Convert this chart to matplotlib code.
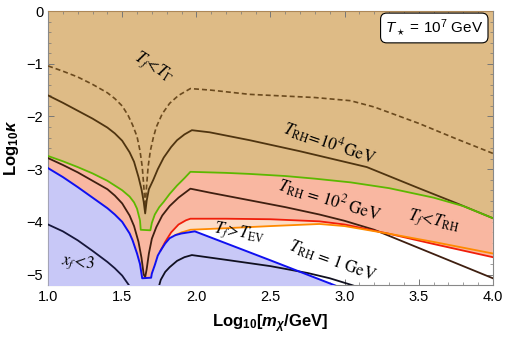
import numpy as np
import matplotlib
matplotlib.use("Agg")
import matplotlib.pyplot as plt
from matplotlib.ticker import MultipleLocator, FormatStrFormatter

plt.rcParams['font.family'] = ['Liberation Sans', 'DejaVu Sans']
plt.rcParams['mathtext.fontset'] = 'stix'
plt.rcParams['mathtext.rm'] = 'Liberation Sans'
plt.rcParams['mathtext.it'] = 'Liberation Sans:italic'
plt.rcParams['mathtext.bf'] = 'Liberation Sans:bold'
plt.rcParams['mathtext.bfit'] = 'Liberation Sans:italic:bold'

# ---------------- data ----------------
green_x = [1.0, 1.1, 1.2, 1.3, 1.4, 1.5, 1.55, 1.58, 1.60, 1.62, 1.625, 1.69, 1.70, 1.72, 1.75,
           1.78, 1.82, 1.87, 1.92, 1.96, 2.2, 2.36, 2.6, 2.8, 3.04, 3.3, 3.6, 3.8, 4.0]
green_y = [-2.75, -2.85, -2.96, -3.08, -3.22, -3.40, -3.52, -3.63, -3.75, -3.97, -4.15, -4.16, -4.02, -3.86, -3.72,
           -3.62, -3.47, -3.31, -3.17, -3.05, -3.07, -3.09, -3.13, -3.18, -3.25, -3.36, -3.54, -3.70, -3.93]

rh2_x = [1.0, 1.1, 1.2, 1.3, 1.4, 1.45, 1.5, 1.55, 1.58, 1.61, 1.63, 1.645, 1.655, 1.665, 1.68, 1.70,
         1.73, 1.77, 1.82, 1.88, 1.96, 2.1, 2.36, 2.6, 2.83, 3.0, 3.2, 3.4, 3.6, 3.8, 4.0]
rh2_y = [-2.79, -2.92, -3.06, -3.22, -3.38, -3.50, -3.65, -3.88, -4.08, -4.38, -4.68, -5.00, -5.05, -4.90, -4.60, -4.32,
         -4.10, -3.88, -3.70, -3.54, -3.37, -3.45, -3.59, -3.72, -3.86, -3.98, -4.15, -4.38, -4.61, -4.84, -5.07]

blue_x = [1.0, 1.1, 1.2, 1.3, 1.4, 1.45, 1.5, 1.55, 1.57, 1.6, 1.62, 1.635, 1.695, 1.70, 1.72, 1.74,
          1.76, 1.79, 1.82, 1.86, 1.9, 1.99, 2.5, 2.93, 3.0]
blue_y = [-2.98, -3.15, -3.34, -3.54, -3.74, -3.86, -4.00, -4.22, -4.35, -4.60, -4.80, -5.07, -5.06, -4.98, -4.82, -4.64,
          -4.54, -4.41, -4.31, -4.25, -4.22, -4.18, -4.73, -5.20, -5.28]

rh1_left_x = [1.0, 1.1, 1.2, 1.3, 1.4, 1.45, 1.5, 1.55]
rh1_left_y = [-4.05, -4.18, -4.35, -4.55, -4.76, -4.88, -5.02, -5.22]
rh1_right_x = [1.745, 1.76, 1.79, 1.82, 1.87, 1.92, 1.97, 2.2, 2.5, 2.75, 2.9, 3.05, 3.1]
rh1_right_y = [-5.25, -5.10, -4.95, -4.86, -4.74, -4.67, -4.63, -4.72, -4.84, -4.97, -5.07, -5.20, -5.25]

red_x = [1.76, 1.79, 1.83, 1.88, 1.93, 1.96, 2.2, 2.5, 2.83, 3.0, 3.29, 3.6, 4.0]
red_y = [-4.54, -4.38, -4.20, -4.05, -3.97, -3.94, -3.94, -3.95, -3.99, -4.05, -4.22, -4.42, -4.67]

orange_x = [1.86, 1.9, 1.96, 2.2, 2.5, 2.83, 3.0, 3.29, 3.6, 4.0]
orange_y = [-4.25, -4.20, -4.15, -4.12, -4.08, -4.04, -4.08, -4.22, -4.38, -4.60]

gam_x = [1.0, 1.1, 1.2, 1.3, 1.4, 1.45, 1.5, 1.54, 1.57, 1.6, 1.62, 1.635, 1.645, 1.655,
         1.665, 1.675, 1.69, 1.71, 1.73, 1.77, 1.82, 1.88, 1.96, 2.1, 2.36, 2.8, 3.04, 3.2, 3.5, 3.75, 4.0]
gam_y = [-1.04, -1.14, -1.25, -1.39, -1.55, -1.66, -1.80, -1.98, -2.16, -2.38, -2.65, -2.95, -3.30, -3.72,
         -3.30, -2.95, -2.65, -2.40, -2.20, -1.95, -1.75, -1.60, -1.47, -1.50, -1.58, -1.64, -1.70, -1.82, -2.13, -2.42, -2.70]

rh4_x = [1.0, 1.1, 1.2, 1.3, 1.4, 1.45, 1.5, 1.55, 1.58, 1.61, 1.63, 1.645, 1.655,
         1.665, 1.68, 1.71, 1.74, 1.78, 1.83, 1.87, 1.92, 1.97, 2.09, 2.36, 2.7, 3.15, 3.5, 3.75, 4.0]
rh4_y = [-1.60, -1.74, -1.89, -2.04, -2.21, -2.32, -2.46, -2.68, -2.86, -3.15, -3.38, -3.62, -3.84,
         -3.60, -3.38, -3.20, -3.00, -2.78, -2.58, -2.45, -2.34, -2.26, -2.30, -2.45, -2.66, -2.96, -3.36, -3.64, -3.93]

x_ticks = [1.0, 1.5, 2.0, 2.5, 3.0, 3.5, 4.0]
y_ticks = [0, -1, -2, -3, -4, -5]

# ---------------- colours ----------------
c_tan = '#DEBB86'
c_salmon = '#F9B7A1'
c_peach = '#FCDCC6'
c_lav = '#C8C8F7'

fig = plt.figure(figsize=(5.06, 3.37), dpi=100)
ax = fig.add_axes([0.095, 0.154, 0.879, 0.813])

# tan region above green
ax.fill_between(green_x, green_y, 0, color=c_tan, lw=0, zorder=1)

# salmon region: below green, above red (right) / blue (left)
bl_x = [x for x in blue_x if x <= 1.76]
bl_y = [y for x, y in zip(blue_x, blue_y) if x <= 1.76]
sal_x = list(green_x) + list(red_x[::-1]) + bl_x[::-1]
sal_y = list(green_y) + list(red_y[::-1]) + bl_y[::-1]
ax.fill(sal_x, sal_y, color=c_salmon, lw=0, zorder=2)

# peach region: below red, above orange/blue
rp = [(x, y) for x, y in zip(red_x, red_y) if x <= 3.29]
op = [(x, y) for x, y in zip(orange_x, orange_y) if x <= 3.29]
bp = [(x, y) for x, y in zip(blue_x, blue_y) if 1.76 <= x <= 1.86]
pe = rp + op[::-1] + bp[::-1]
ax.fill([p[0] for p in pe], [p[1] for p in pe], color=c_peach, lw=0, zorder=3)

# lavender region below blue
ax.fill_between(blue_x, blue_y, -6, color=c_lav, lw=0, zorder=3)

# lines
ax.plot(gam_x, gam_y, color='#6B4A1E', lw=1.2, dashes=(3, 1.8), zorder=5)
ax.plot(rh4_x, rh4_y, color='#4F3410', lw=1.3, zorder=5)
ax.plot(green_x, green_y, color='#5CB800', lw=1.3, zorder=5)
ax.plot(rh2_x, rh2_y, color='#3F1F10', lw=1.3, zorder=5)
ax.plot(red_x, red_y, color='#F01E0A', lw=1.3, zorder=5)
ax.plot(orange_x, orange_y, color='#FF8A00', lw=1.3, zorder=5)
ax.plot(blue_x, blue_y, color='#1010F0', lw=1.4, zorder=6)
ax.plot(rh1_left_x, rh1_left_y, color='#16163A', lw=1.3, zorder=5)
ax.plot(rh1_right_x, rh1_right_y, color='#101020', lw=1.3, zorder=5)
ax.axhline(0, color='#B5874E', lw=1.2, zorder=6)

# annotations
kw = dict(ha='center', va='center', rotation_mode='anchor', math_fontfamily='stix', zorder=8)
ax.text(1.71, -1.06, r'$T_f\!<\!T_\Gamma$', fontsize=12, rotation=-32, **kw)
ax.text(2.90, -2.51, r'$T_{\rm RH}\!=\!10^4\,{\rm GeV}$', fontsize=12, rotation=-19, **kw)
ax.text(2.90, -3.59, r'$T_{\rm RH}\,=\,10^2\ {\rm GeV}$', fontsize=12, rotation=-17, **kw)
ax.text(3.60, -3.99, r'$T_f\!<\!T_{\rm RH}$', fontsize=12, rotation=-12, **kw)
ax.text(2.92, -4.75, r'$T_{\rm RH}\,=\,1\ {\rm GeV}$', fontsize=12, rotation=-20, **kw)
ax.text(2.29, -4.20, r'$T_f\!>\!T_{\rm EV}$', fontsize=12, rotation=-10, **kw)
ax.text(1.20, -4.78, r'$x_f\!<\!3$', fontsize=12, rotation=-8, **kw)

ax.text(3.605, -0.32, r'$T_\star$ = 10$^7$ GeV', fontsize=11, ha='center', va='center',
        math_fontfamily='custom', zorder=9,
        bbox=dict(boxstyle='round,pad=0.3,rounding_size=0.4', fc='white', ec='black', lw=0.8))

ax.set_xlim(1.0, 4.0)
ax.set_ylim(-5.2, 0)
ax.set_xticks(x_ticks)
ax.set_yticks(y_ticks)
ax.xaxis.set_major_formatter(FormatStrFormatter('%.1f'))
ax.xaxis.set_minor_locator(MultipleLocator(0.1))
ax.yaxis.set_minor_locator(MultipleLocator(0.2))
ax.tick_params(which='both', direction='in', top=True, right=True, color='#777777', labelsize=10.5)
ax.tick_params(which='major', length=4, width=0.7)
ax.tick_params(which='minor', length=2, width=0.5)
for s in ax.spines.values():
    s.set_color('#888888')
    s.set_linewidth(0.8)

ax.set_xlabel(r'Log$_{\mathbf{10}}$[$\mathbfit{m_\chi}$/GeV]', fontsize=12, fontweight='bold',
              math_fontfamily='custom', labelpad=6)
ax.set_ylabel(r'Log$_{\mathbf{10}}$$\mathbfit{\kappa}$', fontsize=12, fontweight='bold',
              math_fontfamily='custom', labelpad=4)

fig.savefig('out.png', dpi=100)
